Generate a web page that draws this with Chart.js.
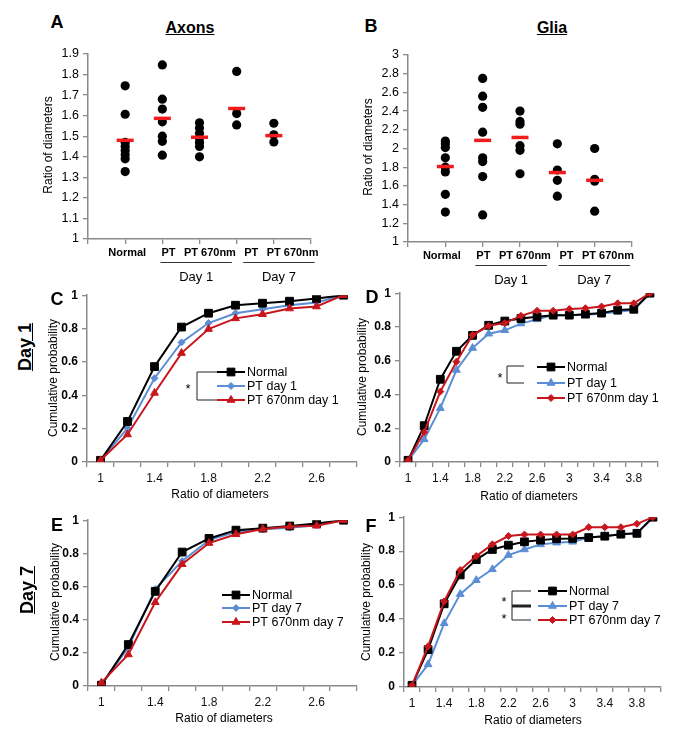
<!DOCTYPE html>
<html><head><meta charset="utf-8">
<script src="https://cdn.jsdelivr.net/npm/chart.js@4.4.1/dist/chart.umd.min.js"></script>
<style>
body{margin:0;background:#fff;width:685px;height:747px;position:relative;overflow:hidden;font-family:"Liberation Sans",Arial,sans-serif;}
canvas{position:absolute;}
.t{position:absolute;white-space:nowrap;transform:translate(-50%,-50%);color:#000;line-height:1;}
.r{transform:translate(-50%,-50%) rotate(-90deg);}
.b{font-weight:bold;}
.u{text-decoration:underline;}
</style></head><body>
<canvas id="cA"></canvas><canvas id="cB"></canvas>
<canvas id="cC"></canvas><canvas id="cD"></canvas>
<canvas id="cE"></canvas><canvas id="cF"></canvas>

<div class="t b" style="left:57px;top:22px;font-size:18px">A</div>
<div class="t b u" style="left:190px;top:28px;font-size:16px">Axons</div>
<div class="t b" style="left:371px;top:26px;font-size:18px">B</div>
<div class="t b u" style="left:552px;top:28px;font-size:16px">Glia</div>
<div class="t r" style="left:48px;top:145px;font-size:12px">Ratio of diameters</div>
<div class="t r" style="left:368px;top:147px;font-size:12px">Ratio of diameters</div>

<div class="t b" style="left:57px;top:299px;font-size:18px">C</div>
<div class="t b" style="left:372px;top:297px;font-size:18px">D</div>
<div class="t b" style="left:57px;top:525px;font-size:18px">E</div>
<div class="t b" style="left:371px;top:526px;font-size:18px">F</div>
<div class="t r b u" style="left:25px;top:347px;font-size:18px">Day 1</div>
<div class="t r b u" style="left:27px;top:590px;font-size:18px">Day 7</div>

<div class="t r" style="left:53px;top:378px;font-size:12px">Cumulative probability</div>
<div class="t r" style="left:362px;top:377px;font-size:12px">Cumulative probability</div>
<div class="t r" style="left:55px;top:602px;font-size:12px">Cumulative probability</div>
<div class="t r" style="left:366px;top:602px;font-size:12px">Cumulative probability</div>
<div class="t" style="left:220px;top:494px;font-size:12px">Ratio of diameters</div>
<div class="t" style="left:529px;top:496px;font-size:12px">Ratio of diameters</div>
<div class="t" style="left:224px;top:718px;font-size:12px">Ratio of diameters</div>
<div class="t" style="left:533px;top:720px;font-size:12px">Ratio of diameters</div>

<script>
// ---------- DATA ----------
const scatterCategories = ['Normal', 'PT', 'PT 670nm', 'PT', 'PT 670nm'];
const dayGroups = ['Day 1', 'Day 7'];

// Panel A: Axons, ratio of diameters per animal
const axonsNormal = [1.745, 1.607, 1.47, 1.45, 1.43, 1.41, 1.39, 1.328];
const axonsPTd1 = [1.847, 1.68, 1.632, 1.57, 1.50, 1.475, 1.408];
const axonsPT670d1 = [1.565, 1.54, 1.515, 1.49, 1.47, 1.45, 1.40];
const axonsPTd7 = [1.815, 1.61, 1.555];
const axonsPT670d7 = [1.563, 1.507, 1.472];
const axonsMeans = [1.48, 1.587, 1.495, 1.635, 1.503];

// Panel B: Glia
const gliaNormal = [2.08, 2.05, 2.01, 1.90, 1.80, 1.75, 1.51, 1.32];
const gliaPTd1 = [2.75, 2.56, 2.44, 2.175, 1.90, 1.86, 1.70, 1.29];
const gliaPT670d1 = [2.40, 2.29, 2.26, 2.03, 1.98, 1.73];
const gliaPTd7 = [2.05, 1.77, 1.66, 1.49];
const gliaPT670d7 = [2.0, 1.67, 1.65, 1.33];
const gliaMeans = [1.807, 2.087, 2.118, 1.743, 1.66];

// Cumulative distributions: x categories (ratio of diameters)
const ratioAxons = ['1', '1.2', '1.4', '1.6', '1.8', '2', '2.2', '2.4', '2.6', '2.8'];
const ratioGlia = ['1', '1.2', '1.4', '1.6', '1.8', '2', '2.2', '2.4', '2.6', '2.8', '3', '3.2', '3.4', '3.6', '3.8', '4'];

// C: Axons day 1
const cumAxNormalD1 = [0.01, 0.243, 0.572, 0.809, 0.892, 0.94, 0.952, 0.964, 0.98, 1.0];
const cumAxPTD1 = [0.01, 0.203, 0.502, 0.717, 0.833, 0.892, 0.916, 0.94, 0.956, 1.0];
const cumAxPT670D1 = [0.01, 0.165, 0.414, 0.653, 0.797, 0.861, 0.886, 0.92, 0.932, 1.0];
// D: Glia day 1
const cumGlNormalD1 = [0.01, 0.215, 0.49, 0.656, 0.75, 0.81, 0.835, 0.85, 0.86, 0.87, 0.87, 0.876, 0.882, 0.9, 0.905, 1.0];
const cumGlPTD1 = [0.01, 0.134, 0.319, 0.545, 0.675, 0.76, 0.78, 0.82, 0.845, 0.87, 0.87, 0.872, 0.878, 0.89, 0.9, 1.0];
const cumGlPT670D1 = [0.01, 0.177, 0.417, 0.594, 0.752, 0.807, 0.823, 0.866, 0.896, 0.896, 0.906, 0.911, 0.921, 0.94, 0.94, 1.0];
// E: Axons day 7
const cumAxNormalD7 = [0.005, 0.25, 0.571, 0.808, 0.89, 0.94, 0.952, 0.965, 0.98, 1.0];
const cumAxPTD7 = [0.01, 0.232, 0.585, 0.754, 0.88, 0.93, 0.945, 0.955, 0.97, 1.0];
const cumAxPT670D7 = [0.02, 0.19, 0.505, 0.734, 0.862, 0.915, 0.947, 0.962, 0.966, 1.0];
// F: Glia day 7
const cumGlNormalD7 = [0.01, 0.22, 0.49, 0.66, 0.75, 0.81, 0.835, 0.855, 0.865, 0.873, 0.875, 0.88, 0.888, 0.9, 0.905, 1.0];
const cumGlPTD7 = [0.01, 0.133, 0.375, 0.547, 0.629, 0.693, 0.777, 0.81, 0.84, 0.85, 0.855, 0.88, 0.889, 0.9, 0.905, 1.0];
const cumGlPT670D7 = [0.01, 0.24, 0.504, 0.689, 0.771, 0.84, 0.889, 0.898, 0.898, 0.898, 0.898, 0.941, 0.941, 0.941, 0.961, 1.0];

// ---------- STYLE ----------
const FONT = '"Liberation Sans", Arial, sans-serif';
const AXIS = '#8a8a8a';
const BLACK = '#000000';
const BLUE = '#5b8ed4';
const RED = '#c8161d';
const fmt = v => String(Number(Number(v).toFixed(2)));

function place(id, area, yW, xH) {
  const cv = document.getElementById(id);
  const left = area.left - yW, top = area.top - 10;
  cv.width = area.right + 10 - left;
  cv.height = area.bottom + xH - top;
  cv.style.left = left + 'px';
  cv.style.top = top + 'px';
  return { cv, left, top };
}

function drawMarker(ctx, style, x, y, r, color) {
  ctx.fillStyle = color; ctx.strokeStyle = color; ctx.lineWidth = 1;
  ctx.beginPath();
  if (style === 'rect') {
    const s = r * Math.SQRT1_2; ctx.rect(x - s, y - s, 2 * s, 2 * s);
  } else if (style === 'rectRot') {
    ctx.moveTo(x, y - r); ctx.lineTo(x + r, y); ctx.lineTo(x, y + r); ctx.lineTo(x - r, y); ctx.closePath();
  } else {
    let a = 0;
    ctx.moveTo(x + Math.sin(a) * r, y - Math.cos(a) * r);
    a += 2 * Math.PI / 3; ctx.lineTo(x + Math.sin(a) * r, y - Math.cos(a) * r);
    a += 2 * Math.PI / 3; ctx.lineTo(x + Math.sin(a) * r, y - Math.cos(a) * r);
    ctx.closePath();
  }
  ctx.fill(); ctx.stroke();
}

const axisGrid = { drawOnChartArea: false, tickLength: 5, color: AXIS, lineWidth: 1.3 };
const axisBorder = { color: AXIS, width: 1.5 };

// ---------- SCATTER PANELS (A, B) ----------
const catLabelPlugin = {
  id: 'catLabels',
  afterDraw(chart, args, opts) {
    const { ctx, chartArea, scales } = chart;
    const x = scales.x;
    ctx.save();
    ctx.font = 'bold 11px ' + FONT;
    ctx.fillStyle = '#000'; ctx.textAlign = 'center'; ctx.textBaseline = 'middle';
    const cx = scatterCategories.map((c, i) => x.getPixelForValue(i + 1) + opts.shift + opts.step * i);
    const w = scatterCategories.map(c => ctx.measureText(c).width);
    const ly = chartArea.bottom + 14;
    scatterCategories.forEach((c, i) => ctx.fillText(c, cx[i], ly));
    ctx.strokeStyle = '#333'; ctx.lineWidth = 1;
    ctx.font = '13px ' + FONT;
    dayGroups.forEach((g, k) => {
      const a = 1 + 2 * k, b = 2 + 2 * k;
      const x1 = cx[a] - w[a] / 2 - 1, x2 = cx[b] + w[b] / 2 - 4;
      const yl = chartArea.bottom + 23.5;
      ctx.beginPath(); ctx.moveTo(x1, yl); ctx.lineTo(x2, yl); ctx.stroke();
      ctx.fillText(g, (x1 + x2) / 2, chartArea.bottom + 38);
    });
    ctx.restore();
  }
};

function scatterChart(id, area, groups, means, yMin, yMax, step, shift) {
  const p = place(id, area, 50, 50);
  const dots = [];
  groups.forEach((vals, i) => vals.forEach(v => dots.push({ x: i + 1, y: v })));
  const meanPts = means.map((v, i) => ({ x: i + 1, y: v }));
  new Chart(p.cv, {
    type: 'scatter',
    data: {
      datasets: [
        { data: meanPts, pointStyle: 'line', pointRadius: 8.5, pointBorderWidth: 3.5, borderColor: '#ee1c1c', backgroundColor: '#ee1c1c', order: 0 },
        { data: dots, pointStyle: 'circle', pointRadius: 4.6, pointBorderWidth: 0, backgroundColor: '#000', borderColor: '#000', order: 1 }
      ]
    },
    options: {
      animation: false, responsive: false, devicePixelRatio: 1,
      layout: { padding: { top: 10, right: 10, left: 0, bottom: 0 } },
      plugins: { legend: { display: false }, tooltip: { enabled: false }, catLabels: { shift: shift, step: 4.2 } },
      scales: {
        x: { type: 'linear', min: 0, max: 6, ticks: { display: false, stepSize: 1 }, grid: axisGrid, border: axisBorder,
             afterFit(s) { s.height = 50; } },
        y: { min: yMin, max: yMax, ticks: { stepSize: step, color: '#000', font: { size: 12.5, family: FONT }, padding: 4, callback: fmt },
             grid: axisGrid, border: axisBorder, afterFit(s) { s.width = 50; } }
      }
    },
    plugins: [catLabelPlugin]
  });
}

scatterChart('cA', { left: 88, right: 313, top: 52, bottom: 239 },
  [axonsNormal, axonsPTd1, axonsPT670d1, axonsPTd7, axonsPT670d7], axonsMeans, 1, 1.9, 0.1, 2);
scatterChart('cB', { left: 408, right: 634, top: 53, bottom: 242 },
  [gliaNormal, gliaPTd1, gliaPT670d1, gliaPTd7, gliaPT670d7], gliaMeans, 1, 3, 0.2, -3.5);

// ---------- CUMULATIVE PANELS (C-F) ----------
const legendPlugin = {
  id: 'cumLegend',
  afterDraw(chart, args, o) {
    const ctx = chart.ctx;
    ctx.save();
    ctx.translate(-o.offset.left, -o.offset.top);
    const sets = chart.data.datasets;
    o.legendOrder.forEach((di, k) => {
      const ds = sets[di];
      const y = o.rows[k];
      ctx.strokeStyle = ds.borderColor; ctx.lineWidth = 2;
      ctx.beginPath(); ctx.moveTo(o.lx, y); ctx.lineTo(o.lx + o.len, y); ctx.stroke();
      drawMarker(ctx, ds.pointStyle, o.lx + o.len / 2, y, ds.pointRadius, ds.borderColor);
      ctx.fillStyle = '#000'; ctx.font = '12.5px ' + FONT; ctx.textBaseline = 'middle'; ctx.textAlign = 'left';
      ctx.fillText(ds.label, o.lx + o.len + 2, y + 0.5);
    });
    if (o.bracket) {
      const b = o.bracket;
      ctx.strokeStyle = '#222'; ctx.lineWidth = 1;
      ctx.beginPath(); ctx.moveTo(b.x, b.y1); ctx.lineTo(b.x, b.y2); ctx.stroke();
      b.arms.forEach(a => {
        ctx.lineWidth = a.w || 1;
        ctx.beginPath(); ctx.moveTo(b.x, a.y); ctx.lineTo(a.x2, a.y); ctx.stroke();
      });
      ctx.fillStyle = '#000'; ctx.font = '13px ' + FONT; ctx.textAlign = 'center'; ctx.textBaseline = 'middle';
      b.stars.forEach(s => ctx.fillText('*', s.x, s.y));
    }
    ctx.restore();
  }
};

function cumChart(id, area, labels, sets, legend) {
  const p = place(id, area, 45, 30);
  legend.offset = { left: p.left, top: p.top };
  new Chart(p.cv, {
    type: 'line',
    data: {
      labels: labels,
      datasets: sets.map(s => ({
        label: s.label, data: s.data, borderColor: s.color, backgroundColor: s.color,
        pointStyle: s.style, pointRadius: s.r, pointBorderWidth: 1, pointBackgroundColor: s.color, pointBorderColor: s.color,
        borderWidth: 2, tension: 0, fill: false, order: s.order
      }))
    },
    options: {
      animation: false, responsive: false, devicePixelRatio: 1,
      layout: { padding: { top: 10, right: 10, left: 0, bottom: 0 } },
      plugins: { legend: { display: false }, tooltip: { enabled: false }, cumLegend: legend },
      scales: {
        x: { type: 'category', offset: true,
             ticks: { autoSkip: false, maxRotation: 0, color: '#111', font: { size: 12, family: FONT }, padding: 4,
                      callback(v, i) { return i % 2 === 0 ? this.getLabelForValue(v) : ''; } },
             grid: Object.assign({ offset: true }, axisGrid), border: axisBorder, afterFit(s) { s.height = 30; } },
        y: { min: 0, max: 1, ticks: { stepSize: 0.2, color: '#000', font: { size: 12, weight: 'bold', family: FONT }, padding: 4, callback: fmt },
             grid: axisGrid, border: axisBorder, afterFit(s) { s.width = 45; } }
      }
    },
    plugins: [legendPlugin]
  });
}

cumChart('cC', { left: 87, right: 357, top: 294, bottom: 462 }, ratioAxons, [
  { label: 'Normal', data: cumAxNormalD1, color: BLACK, style: 'rect', r: 5.5, order: 1 },
  { label: 'PT day 1', data: cumAxPTD1, color: BLUE, style: 'rectRot', r: 3.5, order: 2 },
  { label: 'PT 670nm day 1', data: cumAxPT670D1, color: RED, style: 'triangle', r: 4.5, order: 0 }
], { legendOrder: [0, 1, 2], lx: 217, len: 28, rows: [372, 386, 400],
     bracket: { x: 197, y1: 372, y2: 400, arms: [{ y: 372, x2: 217 }, { y: 400, x2: 217 }], stars: [{ x: 188, y: 389 }] } });

cumChart('cD', { left: 400, right: 658, top: 292, bottom: 462 }, ratioGlia, [
  { label: 'Normal', data: cumGlNormalD1, color: BLACK, style: 'rect', r: 5.5, order: 1 },
  { label: 'PT day 1', data: cumGlPTD1, color: BLUE, style: 'triangle', r: 4.5, order: 2 },
  { label: 'PT 670nm day 1', data: cumGlPT670D1, color: RED, style: 'rectRot', r: 3.5, order: 0 }
], { legendOrder: [0, 1, 2], lx: 537, len: 28, rows: [367, 383, 398],
     bracket: { x: 507, y1: 366, y2: 383, arms: [{ y: 366, x2: 524 }, { y: 383, x2: 524 }], stars: [{ x: 500, y: 378 }] } });

cumChart('cE', { left: 88, right: 357, top: 519, bottom: 686 }, ratioAxons, [
  { label: 'Normal', data: cumAxNormalD7, color: BLACK, style: 'rect', r: 5.5, order: 1 },
  { label: 'PT day 7', data: cumAxPTD7, color: BLUE, style: 'rectRot', r: 3.5, order: 2 },
  { label: 'PT 670nm day 7', data: cumAxPT670D7, color: RED, style: 'triangle', r: 4.5, order: 0 }
], { legendOrder: [0, 1, 2], lx: 222, len: 28, rows: [595, 608, 622] });

cumChart('cF', { left: 404, right: 661, top: 516, bottom: 687 }, ratioGlia, [
  { label: 'Normal', data: cumGlNormalD7, color: BLACK, style: 'rect', r: 5.5, order: 1 },
  { label: 'PT day 7', data: cumGlPTD7, color: BLUE, style: 'triangle', r: 4.5, order: 2 },
  { label: 'PT 670nm day 7', data: cumGlPT670D7, color: RED, style: 'rectRot', r: 3.5, order: 0 }
], { legendOrder: [0, 1, 2], lx: 538, len: 29, rows: [591, 606, 620],
     bracket: { x: 512, y1: 591, y2: 620, arms: [{ y: 591, x2: 531 }, { y: 606, x2: 531, w: 3 }, { y: 620, x2: 531 }],
                stars: [{ x: 504, y: 602 }, { x: 504, y: 619 }] } });
</script>
</body></html>
